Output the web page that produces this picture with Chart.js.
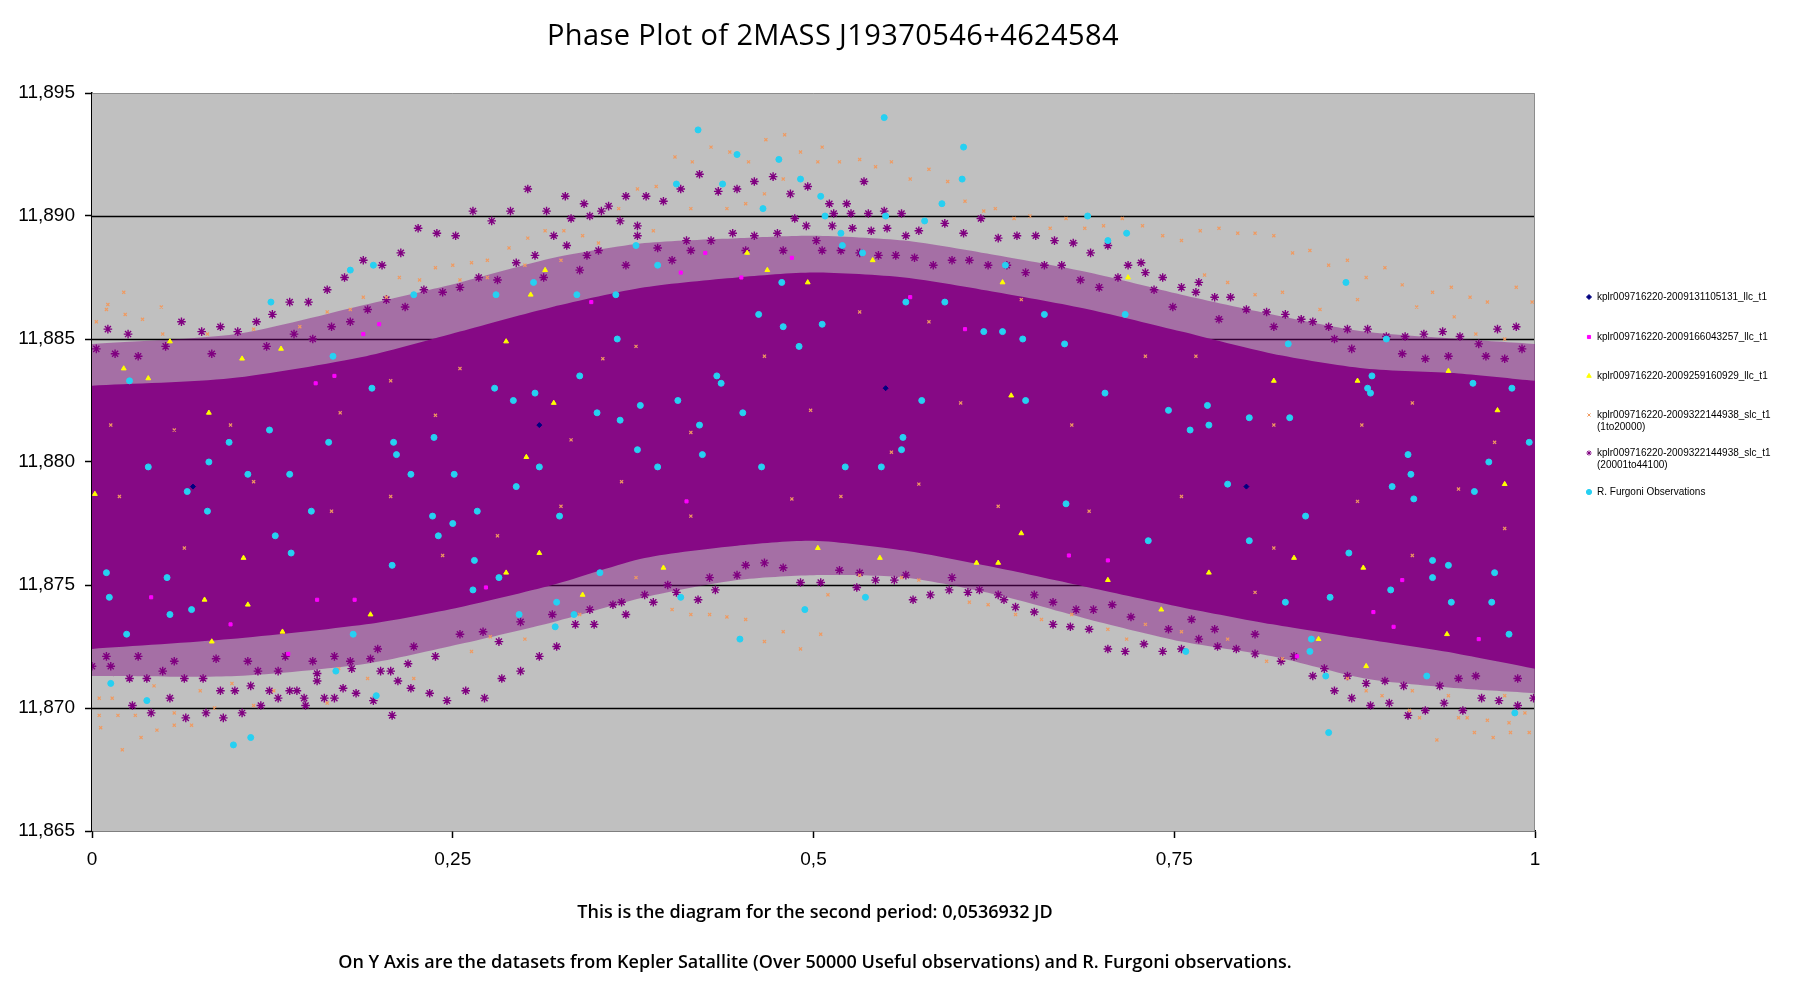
<!DOCTYPE html>
<html>
<head>
<meta charset="utf-8">
<title>Phase Plot of 2MASS J19370546+4624584</title>
<script src="https://cdn.jsdelivr.net/npm/chart.js@4.4.1/dist/chart.umd.min.js"></script>
<style>
  body { margin: 0; background: #fff; }
  #wrap { position: relative; width: 1811px; height: 992px; overflow: hidden; }
  #phaseChart { position: absolute; left: 0; top: 0; }
  .title { position: absolute; left: 0; top: 14px; width: 1666px; text-align: center;
           font: 500 29px 'Open Sans', sans-serif; letter-spacing: 0.4px; color: #000; }
  .note { position: absolute; left: 0; width: 1630px; text-align: center;
          font: 600 18px 'Open Sans', sans-serif; color: #000; }
  .leg { position: absolute; left: 1597px; font: 10px 'Liberation Sans', Arial, sans-serif;
         line-height: 11.5px; color: #000; white-space: nowrap; }
</style>
</head>
<body>
<div id="wrap">
  <canvas id="phaseChart" width="1811" height="992"></canvas>
  <div class="title">Phase Plot of 2MASS J19370546+4624584</div>
  <div class="note" style="top:899px">This is the diagram for the second period: 0,0536932 JD</div>
  <div class="note" style="top:949px">On Y Axis are the datasets from Kepler Satallite (Over 50000 Useful observations) and R. Furgoni observations.</div>
  <div id="legendBox"></div>
</div>
<script>
// axis ticks
const xTicks = [0, 0.25, 0.5, 0.75, 1];
const xTickLabels = ['0', '0,25', '0,5', '0,75', '1'];
const yTicks = [11.865, 11.870, 11.875, 11.880, 11.885, 11.890, 11.895];
const yTickLabels = ['11,865', '11,870', '11,875', '11,880', '11,885', '11,890', '11,895'];

const seriesNames = [
  ['kplr009716220-2009131105131_llc_t1'],
  ['kplr009716220-2009166043257_llc_t1'],
  ['kplr009716220-2009259160929_llc_t1'],
  ['kplr009716220-2009322144938_slc_t1', '(1to20000)'],
  ['kplr009716220-2009322144938_slc_t1', '(20001to44100)'],
  ['R. Furgoni Observations']
];

// edges of the solid purple cloud (slc 20001-44100)
const coreTop = [[0, 11.8831], [0.096, 11.8834], [0.19, 11.8843], [0.255, 11.8853], [0.319, 11.8863],
  [0.383, 11.8871], [0.447, 11.8875], [0.5, 11.8877], [0.563, 11.8875], [0.627, 11.8869],
  [0.691, 11.8862], [0.755, 11.8853], [0.818, 11.8844], [0.882, 11.8838], [0.947, 11.8836], [1, 11.8833]];
const coreBottom = [[0, 11.8724], [0.096, 11.8728], [0.19, 11.8734], [0.255, 11.8741], [0.319, 11.8750],
  [0.383, 11.8761], [0.447, 11.8766], [0.5, 11.8768], [0.563, 11.8764], [0.627, 11.8757],
  [0.691, 11.8749], [0.755, 11.8741], [0.818, 11.8734], [0.882, 11.8728], [0.947, 11.8722], [1, 11.8716]];
// edges of the looser fringe around it
const haloTop = [[0, 11.8848], [0.1, 11.8852], [0.19, 11.8864], [0.255, 11.8873], [0.32, 11.8883],
  [0.383, 11.8889], [0.447, 11.8891], [0.5, 11.8892], [0.563, 11.8890], [0.627, 11.8884],
  [0.691, 11.8877], [0.755, 11.8868], [0.818, 11.8860], [0.882, 11.8853], [0.947, 11.8850], [1, 11.8848]];
const haloBottom = [[0, 11.8713], [0.1, 11.8713], [0.19, 11.8718], [0.255, 11.8726], [0.32, 11.8735],
  [0.383, 11.8745], [0.447, 11.8752], [0.5, 11.8754], [0.563, 11.8753], [0.627, 11.8746],
  [0.691, 11.8736], [0.755, 11.8727], [0.818, 11.8721], [0.882, 11.8712], [0.947, 11.8708], [1, 11.8706]];

// slc 20001-44100, the stars that stand out of the dense cloud
const slcPurple = [
  [0.011, 11.8854], [0.025, 11.8852], [0.062, 11.8857], [0.076, 11.8853], [0.089, 11.8855], [0.101, 11.8853],
  [0.114, 11.8857], [0.125, 11.8860], [0.137, 11.8865], [0.150, 11.8865], [0.163, 11.8870], [0.175, 11.8875],
  [0.188, 11.8882], [0.201, 11.8880], [0.214, 11.8885], [0.226, 11.8895], [0.239, 11.8893], [0.252, 11.8892],
  [0.264, 11.8902], [0.277, 11.8898], [0.290, 11.8902], [0.302, 11.8911], [0.315, 11.8902], [0.320, 11.8892],
  [0.328, 11.8908], [0.332, 11.8899], [0.341, 11.8905], [0.345, 11.8900], [0.353, 11.8902], [0.358, 11.8904],
  [0.366, 11.8898], [0.370, 11.8908], [0.378, 11.8896], [0.384, 11.8908], [0.396, 11.8906], [0.408, 11.8911],
  [0.421, 11.8917], [0.434, 11.8910], [0.447, 11.8911], [0.459, 11.8914], [0.472, 11.8916], [0.484, 11.8909],
  [0.496, 11.8912], [0.179, 11.8857], [0.204, 11.8866], [0.230, 11.8870], [0.255, 11.8871], [0.268, 11.8875],
  [0.294, 11.8881], [0.307, 11.8884], [0.329, 11.8888], [0.343, 11.8884], [0.351, 11.8886], [0.378, 11.8892],
  [0.392, 11.8887], [0.412, 11.8890], [0.429, 11.8890], [0.444, 11.8893], [0.459, 11.8892], [0.475, 11.8893],
  [0.487, 11.8899], [0.495, 11.8896], [0.479, 11.8886], [0.453, 11.8886], [0.415, 11.8886], [0.402, 11.8882],
  [0.370, 11.8880], [0.338, 11.8878], [0.313, 11.8875], [0.281, 11.8874], [0.243, 11.8869], [0.217, 11.8863],
  [0.191, 11.8862], [0.166, 11.8855], [0.140, 11.8852], [0.051, 11.8847], [0.032, 11.8843], [0.016, 11.8844],
  [0.003, 11.8846], [0.083, 11.8844], [0.121, 11.8847], [0.153, 11.8850],
  [0.535, 11.8914], [0.511, 11.8905], [0.523, 11.8905], [0.514, 11.8901], [0.526, 11.8901], [0.538, 11.8901],
  [0.549, 11.8902], [0.561, 11.8901], [0.502, 11.8890], [0.513, 11.8896], [0.527, 11.8895], [0.540, 11.8894],
  [0.551, 11.8895], [0.564, 11.8892], [0.573, 11.8894], [0.591, 11.8897], [0.604, 11.8893], [0.616, 11.8899],
  [0.628, 11.8891], [0.641, 11.8892], [0.654, 11.8892], [0.667, 11.8890], [0.680, 11.8889], [0.692, 11.8885],
  [0.704, 11.8888], [0.718, 11.8880], [0.727, 11.8881], [0.730, 11.8877], [0.742, 11.8875], [0.755, 11.8871],
  [0.767, 11.8873], [0.778, 11.8867], [0.789, 11.8867], [0.800, 11.8862], [0.814, 11.8861], [0.827, 11.8860],
  [0.838, 11.8858], [0.846, 11.8857], [0.857, 11.8855], [0.870, 11.8854], [0.884, 11.8854], [0.897, 11.8851],
  [0.910, 11.8851], [0.923, 11.8852], [0.936, 11.8853], [0.948, 11.8851], [0.961, 11.8848], [0.974, 11.8854],
  [0.987, 11.8855], [0.991, 11.8846], [0.979, 11.8842], [0.966, 11.8843], [0.940, 11.8843], [0.924, 11.8842],
  [0.908, 11.8844], [0.873, 11.8846], [0.861, 11.8850], [0.819, 11.8855], [0.781, 11.8858], [0.765, 11.8869],
  [0.749, 11.8863], [0.736, 11.8870], [0.711, 11.8875], [0.698, 11.8871], [0.685, 11.8874], [0.672, 11.8880],
  [0.660, 11.8880], [0.647, 11.8877], [0.634, 11.8880], [0.621, 11.8880], [0.608, 11.8882], [0.596, 11.8882],
  [0.583, 11.8880], [0.570, 11.8883], [0.557, 11.8884], [0.545, 11.8884], [0.532, 11.8885], [0.519, 11.8886],
  [0.506, 11.8886],
  [0.000, 11.8717], [0.013, 11.8717], [0.026, 11.8712], [0.028, 11.8701], [0.041, 11.8698], [0.038, 11.8712],
  [0.049, 11.8715], [0.054, 11.8704], [0.065, 11.8696], [0.064, 11.8712], [0.077, 11.8712], [0.079, 11.8698],
  [0.091, 11.8696], [0.089, 11.8707], [0.104, 11.8698], [0.099, 11.8707], [0.110, 11.8709], [0.115, 11.8715],
  [0.117, 11.8701], [0.123, 11.8707], [0.129, 11.8704], [0.129, 11.8715], [0.137, 11.8707], [0.142, 11.8707],
  [0.148, 11.8701], [0.147, 11.8704], [0.156, 11.8714], [0.156, 11.8711], [0.161, 11.8704], [0.168, 11.8704],
  [0.168, 11.8721], [0.174, 11.8708], [0.180, 11.8716], [0.183, 11.8706], [0.193, 11.8720], [0.195, 11.8703],
  [0.200, 11.8715], [0.208, 11.8697], [0.207, 11.8715], [0.212, 11.8711], [0.219, 11.8718], [0.221, 11.8708],
  [0.234, 11.8706], [0.238, 11.8721], [0.246, 11.8703], [0.259, 11.8707], [0.272, 11.8704], [0.282, 11.8727],
  [0.284, 11.8712], [0.297, 11.8715], [0.310, 11.8721], [0.322, 11.8725], [0.335, 11.8734], [0.348, 11.8734],
  [0.361, 11.8742], [0.370, 11.8738], [0.389, 11.8743], [0.405, 11.8747], [0.420, 11.8744], [0.432, 11.8748],
  [0.453, 11.8758], [0.466, 11.8759], [0.479, 11.8757], [0.491, 11.8751], [0.223, 11.8725], [0.255, 11.8730],
  [0.271, 11.8731], [0.297, 11.8735], [0.319, 11.8738], [0.345, 11.8740], [0.367, 11.8743], [0.383, 11.8746],
  [0.399, 11.8750], [0.428, 11.8753], [0.447, 11.8754], [0.198, 11.8724], [0.179, 11.8719], [0.153, 11.8719],
  [0.134, 11.8721], [0.108, 11.8719], [0.086, 11.8720], [0.057, 11.8719], [0.032, 11.8721], [0.010, 11.8721],
  [0.505, 11.8751], [0.518, 11.8756], [0.530, 11.8749], [0.543, 11.8752], [0.556, 11.8752], [0.569, 11.8744],
  [0.581, 11.8746], [0.594, 11.8748], [0.607, 11.8747], [0.615, 11.8748], [0.628, 11.8746], [0.632, 11.8744],
  [0.640, 11.8741], [0.653, 11.8739], [0.666, 11.8734], [0.678, 11.8733], [0.691, 11.8732], [0.694, 11.8740],
  [0.704, 11.8724], [0.716, 11.8723], [0.729, 11.8726], [0.742, 11.8723], [0.755, 11.8724], [0.767, 11.8728],
  [0.780, 11.8725], [0.793, 11.8724], [0.806, 11.8722], [0.824, 11.8719], [0.833, 11.8721], [0.846, 11.8713],
  [0.861, 11.8707], [0.873, 11.8704], [0.886, 11.8701], [0.899, 11.8702], [0.912, 11.8697], [0.924, 11.8699],
  [0.937, 11.8702], [0.950, 11.8699], [0.963, 11.8704], [0.975, 11.8703], [0.988, 11.8701], [0.999, 11.8704],
  [0.883, 11.8710], [0.896, 11.8711], [0.909, 11.8709], [0.934, 11.8709], [0.947, 11.8712], [0.959, 11.8713],
  [0.988, 11.8712], [0.870, 11.8713], [0.854, 11.8716], [0.806, 11.8730], [0.778, 11.8732], [0.762, 11.8736],
  [0.746, 11.8732], [0.720, 11.8737], [0.707, 11.8742], [0.682, 11.8740], [0.666, 11.8743], [0.653, 11.8746],
  [0.596, 11.8753], [0.564, 11.8754], [0.532, 11.8755]
];

// slc 1-20000 (small orange crosses)
const slcOrange = [
  [0.022, 11.8869], [0.011, 11.8864], [0.010, 11.8862], [0.023, 11.8860], [0.035, 11.8858], [0.048, 11.8863],
  [0.003, 11.8857], [0.049, 11.8852], [0.188, 11.8867], [0.213, 11.8875], [0.238, 11.8879], [0.250, 11.8880],
  [0.263, 11.8881], [0.274, 11.8882], [0.289, 11.8887], [0.302, 11.8891], [0.314, 11.8894], [0.327, 11.8894],
  [0.340, 11.8892], [0.365, 11.8903], [0.378, 11.8911], [0.391, 11.8912], [0.404, 11.8924], [0.416, 11.8922],
  [0.429, 11.8928], [0.442, 11.8926], [0.455, 11.8922], [0.467, 11.8931], [0.480, 11.8933], [0.491, 11.8926],
  [0.479, 11.8915], [0.466, 11.8909], [0.453, 11.8905], [0.440, 11.8903], [0.415, 11.8903], [0.389, 11.8894],
  [0.351, 11.8889], [0.325, 11.8882], [0.300, 11.8880], [0.274, 11.8875], [0.255, 11.8874], [0.227, 11.8874],
  [0.204, 11.8867], [0.179, 11.8862], [0.163, 11.8861], [0.144, 11.8855], [0.112, 11.8854], [0.080, 11.8852],
  [0.506, 11.8928], [0.503, 11.8922], [0.518, 11.8922], [0.532, 11.8923], [0.543, 11.8920], [0.554, 11.8922],
  [0.567, 11.8915], [0.580, 11.8919], [0.593, 11.8914], [0.605, 11.8906], [0.618, 11.8902], [0.626, 11.8903],
  [0.639, 11.8899], [0.650, 11.8900], [0.664, 11.8895], [0.675, 11.8899], [0.688, 11.8895], [0.701, 11.8896],
  [0.714, 11.8899], [0.728, 11.8896], [0.742, 11.8892], [0.755, 11.8890], [0.768, 11.8894], [0.781, 11.8895],
  [0.794, 11.8893], [0.806, 11.8893], [0.819, 11.8892], [0.832, 11.8885], [0.844, 11.8886], [0.857, 11.8880],
  [0.870, 11.8882], [0.883, 11.8875], [0.896, 11.8879], [0.908, 11.8872], [0.918, 11.8863], [0.929, 11.8869],
  [0.942, 11.8871], [0.955, 11.8867], [0.967, 11.8865], [0.987, 11.8871], [0.998, 11.8865], [0.877, 11.8866],
  [0.851, 11.8862], [0.825, 11.8869], [0.806, 11.8868], [0.787, 11.8873], [0.771, 11.8876], [0.944, 11.8859],
  [0.959, 11.8852], [0.979, 11.8850],
  [0.005, 11.8704], [0.014, 11.8704], [0.005, 11.8697], [0.018, 11.8697], [0.030, 11.8697], [0.006, 11.8692],
  [0.021, 11.8683], [0.034, 11.8688], [0.045, 11.8691], [0.057, 11.8693], [0.069, 11.8693], [0.057, 11.8698],
  [0.085, 11.8700], [0.043, 11.8709], [0.075, 11.8707], [0.097, 11.8710], [0.112, 11.8701], [0.126, 11.8707],
  [0.163, 11.8702], [0.171, 11.8716], [0.191, 11.8712], [0.223, 11.8712], [0.263, 11.8723], [0.276, 11.8729],
  [0.300, 11.8728], [0.338, 11.8738], [0.377, 11.8753], [0.402, 11.8740], [0.415, 11.8738], [0.428, 11.8738],
  [0.440, 11.8737], [0.453, 11.8736], [0.466, 11.8727], [0.479, 11.8731], [0.491, 11.8724],
  [0.510, 11.8746], [0.505, 11.8730], [0.532, 11.8754], [0.561, 11.8753], [0.573, 11.8752], [0.608, 11.8743],
  [0.621, 11.8742], [0.640, 11.8738], [0.658, 11.8736], [0.679, 11.8738], [0.704, 11.8732], [0.717, 11.8728],
  [0.730, 11.8734], [0.755, 11.8731], [0.787, 11.8728], [0.814, 11.8719], [0.825, 11.8720], [0.870, 11.8712],
  [0.883, 11.8707], [0.894, 11.8705], [0.913, 11.8699], [0.920, 11.8696], [0.932, 11.8687], [0.947, 11.8696],
  [0.953, 11.8696], [0.958, 11.8690], [0.967, 11.8695], [0.971, 11.8688], [0.982, 11.8694], [0.983, 11.8690],
  [0.993, 11.8698], [0.996, 11.8690], [0.979, 11.8705], [0.940, 11.8705], [0.915, 11.8707],
  [0.013, 11.8815], [0.057, 11.8813], [0.096, 11.8815], [0.172, 11.8820], [0.238, 11.8819], [0.255, 11.8838],
  [0.354, 11.8842], [0.377, 11.8847], [0.415, 11.8812], [0.466, 11.8843], [0.498, 11.8821], [0.332, 11.8809],
  [0.207, 11.8833], [0.532, 11.8861], [0.580, 11.8857], [0.644, 11.8866], [0.730, 11.8843], [0.679, 11.8815],
  [0.765, 11.8843], [0.819, 11.8815], [0.915, 11.8824], [0.880, 11.8815], [0.972, 11.8808], [0.554, 11.8804],
  [0.602, 11.8824], [0.019, 11.8786], [0.064, 11.8765], [0.112, 11.8792], [0.166, 11.8780], [0.207, 11.8786],
  [0.243, 11.8762], [0.325, 11.8782], [0.367, 11.8792], [0.415, 11.8778], [0.485, 11.8785], [0.281, 11.8770],
  [0.519, 11.8786], [0.573, 11.8791], [0.628, 11.8782], [0.691, 11.8780], [0.755, 11.8786], [0.819, 11.8765],
  [0.877, 11.8784], [0.947, 11.8789], [0.979, 11.8773], [0.915, 11.8762], [0.806, 11.8747]
];

// llc 2009259160929 (yellow triangles)
const llcYellow = [
  [0.054, 11.8849], [0.131, 11.8846], [0.104, 11.8842], [0.039, 11.8834], [0.314, 11.8878], [0.304, 11.8868],
  [0.454, 11.8885], [0.468, 11.8878], [0.320, 11.8824], [0.081, 11.8820], [0.022, 11.8838], [0.496, 11.8873],
  [0.287, 11.8849], [0.541, 11.8882], [0.631, 11.8873], [0.718, 11.8875], [0.819, 11.8833], [0.940, 11.8837],
  [0.974, 11.8821], [0.637, 11.8827], [0.877, 11.8833], [0.002, 11.8787], [0.078, 11.8744], [0.083, 11.8727],
  [0.108, 11.8742], [0.132, 11.8731], [0.193, 11.8738], [0.287, 11.8755], [0.340, 11.8746], [0.396, 11.8757],
  [0.310, 11.8763], [0.105, 11.8761], [0.503, 11.8765], [0.546, 11.8761], [0.613, 11.8759], [0.628, 11.8759],
  [0.644, 11.8771], [0.704, 11.8752], [0.741, 11.8740], [0.774, 11.8755], [0.833, 11.8761], [0.881, 11.8757],
  [0.850, 11.8728], [0.883, 11.8717], [0.939, 11.8730], [0.979, 11.8791], [0.301, 11.8802]
];

// llc 2009166043257 (magenta squares)
const llcMagenta = [
  [0.425, 11.8885], [0.408, 11.8877], [0.199, 11.8856], [0.188, 11.8852], [0.168, 11.8835], [0.155, 11.8832],
  [0.485, 11.8883], [0.450, 11.8875], [0.346, 11.8865], [0.567, 11.8867], [0.605, 11.8854], [0.041, 11.8745],
  [0.096, 11.8734], [0.136, 11.8722], [0.156, 11.8744], [0.182, 11.8744], [0.273, 11.8749], [0.412, 11.8784],
  [0.677, 11.8762], [0.704, 11.8760], [0.835, 11.8721], [0.888, 11.8739], [0.902, 11.8733], [0.961, 11.8728],
  [0.908, 11.8752]
];

// llc 2009131105131 (navy diamonds, mostly hidden inside the cloud)
const llcNavy = [[0.07, 11.8790], [0.31, 11.8815], [0.55, 11.8830], [0.80, 11.8790]];

// R. Furgoni observations (cyan)
const furgoniObs = [
  [0.420, 11.8935], [0.447, 11.8925], [0.476, 11.8923], [0.491, 11.8915], [0.405, 11.8913], [0.437, 11.8913],
  [0.465, 11.8903], [0.377, 11.8888], [0.392, 11.8880], [0.179, 11.8878], [0.195, 11.8880], [0.124, 11.8865],
  [0.223, 11.8868], [0.280, 11.8868], [0.306, 11.8873], [0.336, 11.8868], [0.363, 11.8868], [0.478, 11.8873],
  [0.462, 11.8860], [0.479, 11.8855], [0.490, 11.8847], [0.364, 11.8850], [0.167, 11.8843], [0.026, 11.8833],
  [0.194, 11.8830], [0.279, 11.8830], [0.292, 11.8825], [0.307, 11.8828], [0.338, 11.8835], [0.350, 11.8820],
  [0.366, 11.8817], [0.380, 11.8823], [0.406, 11.8825], [0.433, 11.8835], [0.436, 11.8832], [0.451, 11.8820],
  [0.421, 11.8815], [0.123, 11.8813], [0.095, 11.8808], [0.164, 11.8808], [0.209, 11.8808], [0.237, 11.8810],
  [0.211, 11.8803], [0.378, 11.8805], [0.423, 11.8803], [0.081, 11.8800],
  [0.549, 11.8940], [0.604, 11.8928], [0.603, 11.8915], [0.589, 11.8905], [0.505, 11.8908], [0.508, 11.8900],
  [0.550, 11.8900], [0.577, 11.8898], [0.690, 11.8900], [0.519, 11.8893], [0.520, 11.8888], [0.534, 11.8885],
  [0.704, 11.8890], [0.717, 11.8893], [0.633, 11.8880], [0.869, 11.8873], [0.564, 11.8865], [0.591, 11.8865],
  [0.660, 11.8860], [0.716, 11.8860], [0.506, 11.8856], [0.618, 11.8853], [0.631, 11.8853], [0.645, 11.8850],
  [0.674, 11.8848], [0.829, 11.8848], [0.897, 11.8850], [0.887, 11.8835], [0.884, 11.8830], [0.886, 11.8828],
  [0.957, 11.8832], [0.984, 11.8830], [0.702, 11.8828], [0.575, 11.8825], [0.647, 11.8825], [0.773, 11.8823],
  [0.746, 11.8821], [0.774, 11.8815], [0.802, 11.8818], [0.830, 11.8818], [0.761, 11.8813], [0.562, 11.8810],
  [0.561, 11.8805], [0.912, 11.8803], [0.996, 11.8808], [0.968, 11.8800],
  [0.039, 11.8798], [0.108, 11.8795], [0.137, 11.8795], [0.221, 11.8795], [0.251, 11.8795], [0.310, 11.8798],
  [0.392, 11.8798], [0.464, 11.8798], [0.066, 11.8788], [0.294, 11.8790], [0.080, 11.8780], [0.152, 11.8780],
  [0.267, 11.8780], [0.236, 11.8778], [0.250, 11.8775], [0.324, 11.8778], [0.127, 11.8770], [0.240, 11.8770],
  [0.138, 11.8763], [0.208, 11.8758], [0.265, 11.8760], [0.352, 11.8755], [0.010, 11.8755], [0.052, 11.8753],
  [0.282, 11.8753], [0.264, 11.8748], [0.012, 11.8745], [0.069, 11.8740], [0.054, 11.8738], [0.408, 11.8745],
  [0.322, 11.8743], [0.296, 11.8738], [0.334, 11.8738], [0.321, 11.8733], [0.024, 11.8730], [0.181, 11.8730],
  [0.494, 11.8740], [0.449, 11.8728], [0.169, 11.8715], [0.013, 11.8710], [0.038, 11.8703], [0.197, 11.8705],
  [0.110, 11.8688], [0.098, 11.8685],
  [0.522, 11.8798], [0.547, 11.8798], [0.787, 11.8791], [0.914, 11.8795], [0.901, 11.8790], [0.916, 11.8785],
  [0.958, 11.8788], [0.675, 11.8783], [0.841, 11.8778], [0.732, 11.8768], [0.802, 11.8768], [0.871, 11.8763],
  [0.929, 11.8760], [0.940, 11.8758], [0.972, 11.8755], [0.929, 11.8753], [0.900, 11.8748], [0.858, 11.8745],
  [0.827, 11.8743], [0.942, 11.8743], [0.970, 11.8743], [0.536, 11.8745], [0.982, 11.8730], [0.845, 11.8728],
  [0.758, 11.8723], [0.844, 11.8723], [0.855, 11.8713], [0.925, 11.8713], [0.986, 11.8698], [0.857, 11.8690]
];

const toXY = arr => arr.map(p => ({ x: p[0], y: p[1] }));

const markerStyles = [
  { pointStyle: 'rectRot', radius: 2.5, color: '#000080', border: 1 },
  { pointStyle: 'rect', radius: 2.2, color: '#ff00ff', border: 1 },
  { pointStyle: 'triangle', radius: 2.8, color: '#ffff00', border: 1 },
  { pointStyle: 'crossRot', radius: 2.2, color: '#f09a60', border: 1.2 },
  { pointStyle: 'star', radius: 4.3, color: '#800080', border: 1.4 },
  { pointStyle: 'circle', radius: 3, color: '#26d0f2', border: 1 }
];

function scatterSet(data, s, order) {
  return {
    data: toXY(data), order: order, showLine: false,
    pointStyle: s.pointStyle, pointRadius: s.radius, pointHoverRadius: s.radius,
    pointBackgroundColor: s.color, pointBorderColor: s.color, pointBorderWidth: s.border
  };
}

function bandEdge(data, fillTo, colour, order) {
  return {
    data: toXY(data), order: order, showLine: true, fill: fillTo, tension: 0.25,
    borderColor: 'rgba(0,0,0,0)', borderWidth: 0, backgroundColor: colour, pointRadius: 0
  };
}

const datasets = [
  bandEdge(haloTop, '+1', 'rgba(128,0,128,0.42)', 12),
  bandEdge(haloBottom, false, 'rgba(0,0,0,0)', 13),
  bandEdge(coreTop, '+1', '#860985', 10),
  bandEdge(coreBottom, false, 'rgba(0,0,0,0)', 11),
  scatterSet(llcNavy, markerStyles[0], 6),
  scatterSet(slcPurple, markerStyles[4], 5),
  scatterSet(slcOrange, markerStyles[3], 4),
  scatterSet(llcMagenta, markerStyles[1], 3),
  scatterSet(llcYellow, markerStyles[2], 2),
  scatterSet(furgoniObs, markerStyles[5], 1)
];

// legend rows, centre of the first text line
const legendRowY = [297, 337, 376, 415, 453, 492];

const plotFrame = {
  id: 'plotFrame',
  beforeDatasetsDraw(chart) {
    const a = chart.chartArea, c = chart.ctx;
    c.save();
    c.fillStyle = '#c0c0c0';
    c.fillRect(a.left, a.top, a.right - a.left, a.bottom - a.top);
    c.strokeStyle = '#000';
    c.lineWidth = 1.5;
    const ys = chart.scales.y;
    yTicks.slice(1, -1).forEach(v => {
      const py = Math.round(ys.getPixelForValue(v)) + 0.5;
      c.beginPath(); c.moveTo(a.left, py); c.lineTo(a.right, py); c.stroke();
    });
    c.strokeStyle = '#8c8c8c';
    c.lineWidth = 1;
    c.beginPath();
    c.moveTo(a.left, a.top + 0.5); c.lineTo(a.right - 0.5, a.top + 0.5); c.lineTo(a.right - 0.5, a.bottom);
    c.stroke();
    c.restore();
  },
  afterDraw(chart) {
    const c = chart.ctx;
    markerStyles.forEach((s, i) => {
      c.save();
      c.fillStyle = s.color;
      c.strokeStyle = s.color;
      Chart.helpers.drawPoint(c, { pointStyle: s.pointStyle, radius: Math.min(s.radius, 2.6), borderWidth: 1 }, 1589, legendRowY[i]);
      c.restore();
    });
  }
};

const legendBox = document.getElementById('legendBox');
seriesNames.forEach((lines, i) => {
  const d = document.createElement('div');
  d.className = 'leg';
  d.style.top = (legendRowY[i] - 6) + 'px';
  d.innerHTML = lines.join('<br>');
  legendBox.appendChild(d);
});

new Chart(document.getElementById('phaseChart'), {
  type: 'scatter',
  data: { datasets },
  plugins: [plotFrame],
  options: {
    responsive: false,
    animation: false,
    events: [],
    layout: { padding: { top: 93, right: 276, left: 0, bottom: 0 } },
    plugins: { legend: { display: false }, tooltip: { enabled: false } },
    scales: {
      x: {
        type: 'linear', min: 0, max: 1,
        afterBuildTicks: s => { s.ticks = xTicks.map(v => ({ value: v })); },
        afterFit: s => { s.height = 161; },
        ticks: {
          callback: (v, i) => xTickLabels[i], color: '#000', padding: 10,
          maxRotation: 0, autoSkip: false, font: { family: 'Liberation Sans', size: 19 }
        },
        grid: { drawOnChartArea: false, drawTicks: true, tickLength: 7, tickColor: '#000', tickWidth: 1.5 },
        border: { color: '#000', width: 1.5 }
      },
      y: {
        type: 'linear', min: 11.865, max: 11.895,
        afterBuildTicks: s => { s.ticks = yTicks.map(v => ({ value: v })); },
        afterFit: s => { s.width = 92; },
        ticks: {
          callback: (v, i) => yTickLabels[i], color: '#000', padding: 10,
          autoSkip: false, font: { family: 'Liberation Sans', size: 19 }
        },
        grid: { drawOnChartArea: false, drawTicks: true, tickLength: 7, tickColor: '#000', tickWidth: 1.5 },
        border: { color: '#000', width: 1.5 }
      }
    }
  }
});
</script>
</body>
</html>
